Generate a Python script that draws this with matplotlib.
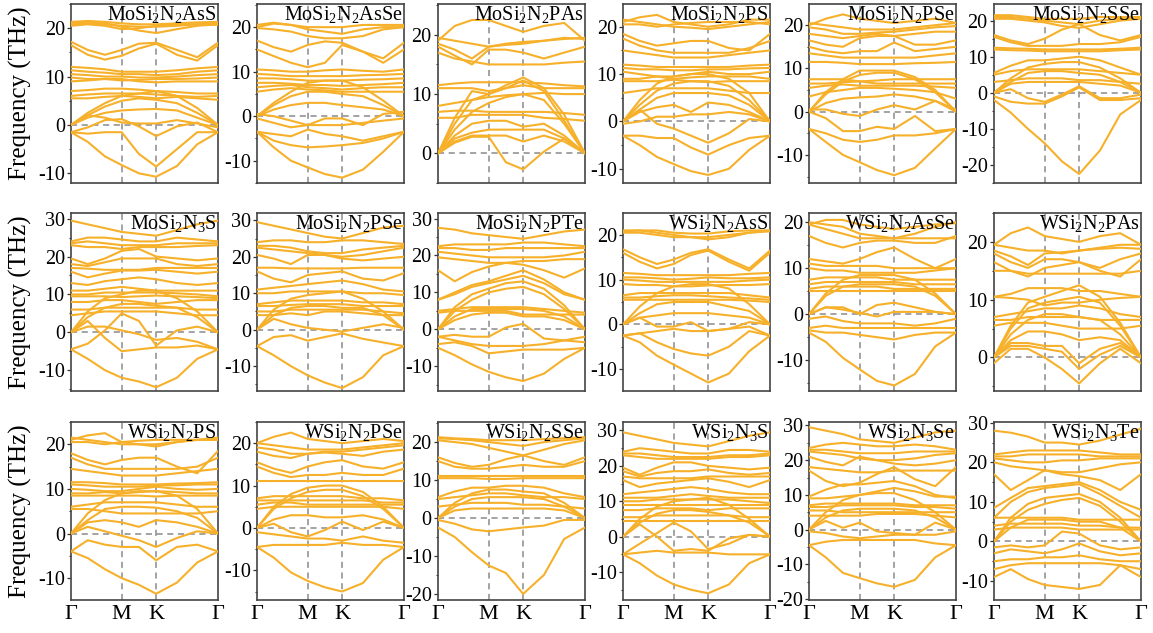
import matplotlib.pyplot as plt
from matplotlib.ticker import MultipleLocator

plt.rcParams['font.family'] = ['Liberation Serif', 'DejaVu Serif']
plt.rcParams['mathtext.fontset'] = 'custom'
plt.rcParams['mathtext.rm'] = 'Liberation Serif'
plt.rcParams['axes.unicode_minus'] = False

# k-path sample positions (Gamma - M - K - Gamma) and labels
kpath = [0.0, 0.33, 0.67, 1.0, 1.34, 1.68, 2.09, 2.49, 2.9]
kticks = [0.0, 1.0, 1.68, 2.9]
klabels = ['Γ', 'M', 'K', 'Γ']

titles = [
    r'MoSi$_\mathregular{2}$N$_\mathregular{2}$AsS', r'MoSi$_\mathregular{2}$N$_\mathregular{2}$AsSe',
    r'MoSi$_\mathregular{2}$N$_\mathregular{2}$PAs', r'MoSi$_\mathregular{2}$N$_\mathregular{2}$PS',
    r'MoSi$_\mathregular{2}$N$_\mathregular{2}$PSe', r'MoSi$_\mathregular{2}$N$_\mathregular{2}$SSe',
    r'MoSi$_\mathregular{2}$N$_\mathregular{3}$S', r'MoSi$_\mathregular{2}$N$_\mathregular{2}$PSe',
    r'MoSi$_\mathregular{2}$N$_\mathregular{2}$PTe', r'WSi$_\mathregular{2}$N$_\mathregular{2}$AsS',
    r'WSi$_\mathregular{2}$N$_\mathregular{2}$AsSe', r'WSi$_\mathregular{2}$N$_\mathregular{2}$PAs',
    r'WSi$_\mathregular{2}$N$_\mathregular{2}$PS', r'WSi$_\mathregular{2}$N$_\mathregular{2}$PSe',
    r'WSi$_\mathregular{2}$N$_\mathregular{2}$SSe', r'WSi$_\mathregular{2}$N$_\mathregular{3}$S',
    r'WSi$_\mathregular{2}$N$_\mathregular{3}$Se', r'WSi$_\mathregular{2}$N$_\mathregular{3}$Te',
]

ylims = [(-12, 25), (-15, 25.2), (-5, 25.2), (-13, 24.8), (-16.5, 24.9), (-25, 24.6),
         (-15.5, 31.5), (-16.8, 32), (-16.7, 31.5), (-14.9, 24.9), (-16.7, 22), (-5.8, 25),
         (-14.9, 25), (-17, 25), (-21.6, 25.3), (-17.9, 32.4), (-20.3, 31), (-14.8, 30.2)]

bands_MoSi2N2AsS = [
    [21.0, 21.2, 21.0, 20.3, 19.5, 19.0, 19.8, 20.5, 20.8],
    [20.5, 20.8, 20.5, 19.8, 20.0, 20.5, 20.8, 20.8, 20.7],
    [20.8, 21.0, 20.8, 20.5, 20.3, 20.3, 20.5, 20.8, 21.0],
    [21.3, 21.5, 21.3, 21.0, 20.8, 20.8, 21.0, 21.2, 21.3],
    [17.2, 15.5, 14.5, 15.5, 16.8, 17.0, 15.5, 14.0, 17.0],
    [16.5, 14.5, 13.5, 14.3, 15.8, 16.8, 14.5, 13.3, 16.5],
    [12.0, 11.8, 11.5, 11.0, 11.0, 11.0, 11.3, 11.7, 12.0],
    [11.3, 11.0, 10.8, 10.5, 10.5, 10.3, 10.5, 11.0, 11.3],
    [10.5, 10.3, 10.0, 10.0, 9.8, 9.8, 10.0, 10.3, 10.5],
    [9.8, 9.5, 9.5, 9.2, 9.3, 9.5, 9.5, 9.6, 9.8],
    [9.0, 9.2, 9.5, 9.5, 9.0, 8.8, 9.0, 9.0, 9.0],
    [7.0, 7.2, 7.5, 7.5, 7.3, 7.0, 6.8, 6.5, 6.5],
    [6.0, 6.3, 6.5, 6.5, 6.5, 6.3, 6.0, 5.8, 6.0],
    [5.5, 5.5, 5.8, 6.0, 5.8, 5.5, 5.8, 5.5, 5.2],
    [0.0, 2.5, 4.5, 6.0, 6.5, 7.0, 6.0, 3.5, 0.0],
    [0.0, 2.0, 3.8, 5.0, 5.5, 5.2, 4.5, 2.5, 0.0],
    [0.0, 1.5, 2.5, 3.0, 3.2, 3.3, 3.0, 1.5, 0.0],
    [-1.5, -0.5, 1.0, 1.2, -0.3, -2.3, -0.3, 0.5, -1.5],
    [0.0, 2.0, 1.5, 0.5, 0.3, 0.3, 1.0, 0.3, -0.5],
    [-1.5, -1.8, -1.5, -1.5, -6.0, -8.6, -5.0, -1.5, -1.5],
    [-1.5, -3.5, -6.5, -8.3, -10.0, -10.7, -8.5, -4.0, -1.5],
]

bands_MoSi2N2AsSe = [
    [20.0, 20.8, 20.5, 19.5, 19.0, 18.5, 19.5, 20.0, 20.0],
    [19.8, 19.5, 19.0, 18.0, 17.5, 17.5, 18.0, 19.5, 20.0],
    [20.5, 21.0, 20.5, 20.0, 20.0, 20.0, 20.5, 20.5, 20.5],
    [17.0, 15.5, 14.5, 16.0, 16.8, 16.5, 14.5, 13.0, 16.5],
    [15.0, 13.5, 12.0, 11.0, 12.0, 16.0, 14.5, 12.0, 15.0],
    [10.5, 10.3, 10.0, 10.0, 10.3, 10.5, 10.2, 10.0, 10.5],
    [9.5, 9.3, 9.0, 9.0, 9.0, 9.0, 9.2, 9.3, 9.5],
    [8.5, 8.5, 8.3, 8.0, 8.0, 8.0, 8.2, 8.3, 8.5],
    [7.5, 7.5, 7.3, 7.0, 7.0, 6.8, 7.0, 7.2, 7.5],
    [6.5, 6.8, 7.0, 6.5, 6.3, 6.0, 6.3, 6.5, 6.5],
    [5.5, 6.0, 6.3, 6.0, 5.8, 5.5, 5.5, 5.5, 5.5],
    [0.0, 3.0, 5.5, 7.5, 8.0, 8.0, 6.5, 3.5, 0.0],
    [0.0, 2.5, 4.5, 5.5, 5.5, 5.0, 4.5, 2.5, 0.0],
    [0.0, 1.5, 2.5, 3.0, 3.0, 2.5, 2.0, 1.5, 0.0],
    [0.5, 0.0, -1.0, -2.0, -0.5, -0.5, -2.0, 0.5, 1.0],
    [-0.5, -1.5, -2.5, -2.0, -2.0, -2.0, -1.5, -1.0, -0.5],
    [-3.5, -4.0, -4.5, -3.0, -4.0, -4.5, -5.5, -4.5, -3.5],
    [-3.5, -5.5, -6.5, -7.0, -6.8, -6.5, -6.0, -5.0, -3.5],
    [-3.5, -7.0, -10.0, -11.5, -13.0, -13.8, -12.0, -8.0, -3.5],
]

bands_MoSi2N2PAs = [
    [19.0, 21.5, 22.5, 22.5, 21.5, 20.5, 21.5, 22.0, 19.0],
    [19.5, 19.0, 18.5, 18.0, 18.5, 18.8, 19.0, 19.3, 19.5],
    [18.5, 17.5, 16.0, 18.0, 18.3, 18.5, 19.0, 19.5, 19.3],
    [18.0, 16.5, 15.0, 17.5, 17.5, 17.0, 16.0, 17.0, 18.0],
    [17.0, 16.0, 15.5, 15.0, 15.0, 15.0, 15.0, 15.3, 15.5],
    [11.5, 11.8, 12.0, 12.0, 12.0, 12.0, 11.8, 11.5, 11.3],
    [11.0, 11.0, 11.0, 10.5, 11.0, 11.5, 11.0, 11.0, 11.0],
    [0.0, 6.0, 10.5, 10.0, 11.5, 12.8, 11.0, 6.5, 0.0],
    [0.0, 5.0, 9.0, 10.0, 11.0, 12.3, 10.5, 5.5, 0.0],
    [8.0, 8.5, 9.0, 9.5, 9.8, 10.0, 10.2, 10.0, 10.0],
    [0.0, 4.0, 7.0, 8.5, 9.5, 10.0, 9.0, 5.0, 0.0],
    [7.0, 7.2, 7.2, 7.0, 7.0, 7.0, 7.0, 6.8, 6.5],
    [6.0, 6.0, 6.5, 6.5, 6.5, 6.5, 6.0, 5.8, 5.5],
    [0.0, 3.0, 5.0, 5.5, 5.5, 4.5, 5.0, 3.0, 0.0],
    [0.0, 2.5, 3.5, 4.0, 4.0, 4.0, 4.0, 2.5, 0.0],
    [0.0, 2.0, 3.0, 3.0, 3.0, 2.0, 3.0, 2.0, 0.0],
    [0.0, 1.8, 2.8, 2.8, -1.5, -2.7, 0.3, 2.5, 0.0],
]

bands_MoSi2N2PS = [
    [21.0, 22.0, 22.5, 21.0, 20.5, 20.0, 20.5, 21.5, 21.5],
    [21.5, 21.0, 20.5, 20.0, 19.8, 19.5, 20.0, 20.5, 21.0],
    [20.5, 20.5, 20.0, 20.5, 20.8, 21.0, 21.0, 21.0, 20.5],
    [18.5, 17.0, 16.0, 16.5, 17.0, 17.0, 15.5, 15.0, 18.5],
    [17.5, 16.0, 15.0, 14.5, 14.5, 14.5, 14.5, 15.5, 17.0],
    [15.0, 14.5, 14.0, 13.5, 13.5, 13.5, 14.0, 14.5, 15.0],
    [12.0, 11.8, 11.5, 11.5, 11.5, 11.5, 11.5, 11.8, 12.0],
    [11.3, 11.0, 11.0, 10.8, 10.8, 11.0, 11.0, 11.2, 11.3],
    [10.5, 10.0, 9.5, 9.5, 10.0, 10.5, 10.0, 10.0, 10.5],
    [9.0, 9.0, 9.5, 9.0, 9.3, 9.5, 9.5, 9.5, 9.0],
    [8.5, 8.5, 8.5, 8.8, 8.5, 8.3, 8.5, 8.5, 8.5],
    [0.0, 4.5, 8.0, 9.5, 10.0, 10.0, 9.0, 6.0, 0.0],
    [0.0, 3.5, 6.5, 8.0, 8.5, 8.5, 7.5, 4.5, 0.0],
    [6.0, 6.5, 7.0, 7.0, 7.0, 7.0, 6.5, 6.0, 6.0],
    [0.0, 2.5, 5.0, 6.0, 6.0, 6.0, 5.5, 3.5, 0.0],
    [0.0, 2.0, 3.0, 3.5, 2.0, 4.0, 3.5, 2.0, 0.0],
    [0.0, 2.5, -0.5, -1.5, -3.0, -4.5, -2.5, 0.5, 0.0],
    [-0.5, 0.0, 1.0, 1.0, 1.5, 1.5, 2.0, 1.5, 0.0],
    [-3.0, -3.0, -3.5, -3.5, -5.5, -7.0, -5.0, -3.5, -3.0],
    [-3.0, -5.0, -7.5, -9.0, -10.5, -11.3, -10.0, -6.0, -3.0],
]

bands_MoSi2N2PSe = [
    [20.0, 21.5, 22.5, 21.5, 21.0, 20.5, 21.0, 21.5, 20.5],
    [20.5, 20.0, 19.5, 19.0, 19.0, 19.0, 19.5, 20.0, 20.5],
    [19.5, 19.0, 18.0, 18.0, 18.3, 18.5, 19.0, 19.5, 19.8],
    [18.0, 17.5, 17.0, 17.5, 18.0, 17.5, 18.0, 18.5, 18.5],
    [16.5, 15.5, 15.0, 17.0, 17.5, 17.5, 15.5, 15.5, 16.5],
    [15.0, 14.0, 13.5, 14.0, 14.0, 16.0, 14.0, 14.5, 15.0],
    [13.5, 13.0, 12.5, 12.5, 12.5, 12.5, 12.5, 13.0, 13.5],
    [11.5, 11.5, 11.3, 11.0, 11.0, 11.0, 11.2, 11.3, 11.5],
    [0.0, 4.5, 7.5, 9.5, 9.5, 9.5, 8.0, 5.0, 0.0],
    [0.0, 4.0, 7.0, 8.5, 9.0, 9.0, 7.5, 4.5, 0.0],
    [7.5, 7.5, 7.5, 7.0, 7.2, 7.5, 7.5, 7.5, 7.5],
    [6.5, 6.5, 6.8, 7.0, 6.5, 6.5, 6.5, 6.5, 6.5],
    [5.5, 6.0, 6.3, 6.0, 6.0, 6.0, 6.0, 5.8, 5.5],
    [3.5, 4.5, 5.0, 5.5, 5.5, 5.3, 5.0, 4.5, 3.0],
    [0.0, 2.0, 3.0, 3.3, 3.5, 4.0, 3.5, 2.5, 0.0],
    [0.5, 0.5, -0.5, -1.0, 0.5, 1.5, 0.5, 2.5, 0.5],
    [0.0, -1.5, -4.5, -4.5, -3.5, -4.0, -1.0, -4.5, -4.0],
    [-4.0, -5.0, -6.5, -7.0, -6.5, -5.5, -5.5, -5.0, -4.0],
    [-4.0, -7.0, -10.0, -11.7, -13.5, -14.7, -13.0, -8.5, -4.0],
]

bands_MoSi2N2SSe = [
    [21.0, 21.0, 20.5, 20.0, 19.5, 19.0, 20.0, 20.5, 21.0],
    [20.5, 20.5, 20.0, 19.5, 18.5, 18.0, 19.0, 20.0, 20.5],
    [21.5, 21.5, 21.0, 20.5, 20.5, 20.5, 21.0, 21.0, 21.0],
    [16.0, 14.5, 13.5, 15.0, 17.5, 19.0, 16.0, 14.5, 16.0],
    [15.5, 14.0, 13.0, 13.0, 13.0, 13.5, 13.5, 14.0, 15.5],
    [12.5, 12.3, 12.2, 12.0, 12.0, 12.0, 12.0, 12.2, 12.5],
    [12.0, 11.8, 11.7, 11.5, 11.5, 11.5, 11.5, 11.8, 12.0],
    [5.5, 7.5, 9.0, 9.0, 9.5, 10.0, 9.0, 7.0, 5.0],
    [0.0, 4.0, 7.0, 8.0, 8.5, 8.5, 7.0, 4.0, 0.0],
    [5.0, 6.0, 6.5, 6.5, 6.5, 6.5, 6.0, 5.5, 5.0],
    [0.0, 3.0, 5.5, 6.0, 6.0, 5.5, 5.0, 3.0, 0.0],
    [3.0, 3.5, 4.0, 4.0, 4.0, 3.5, 3.5, 3.0, 2.5],
    [0.0, 2.5, 3.0, 3.0, 3.0, 3.0, 2.5, 2.0, 0.0],
    [0.0, 1.0, -1.5, -2.5, -0.5, 1.8, -1.5, -1.5, -0.5],
    [-1.0, -2.5, -3.0, -3.0, -1.0, 1.5, -2.0, -2.0, -1.5],
    [-2.0, -5.5, -10.0, -14.0, -19.0, -22.5, -16.0, -6.0, -2.0],
]

bands_MoSi2N3S = [
    [29.5, 28.5, 27.5, 26.5, 26.0, 25.5, 27.0, 28.5, 29.5],
    [24.0, 25.0, 25.0, 24.5, 24.0, 24.0, 25.0, 24.5, 24.0],
    [23.5, 24.0, 23.5, 23.0, 23.0, 23.0, 23.5, 23.5, 23.5],
    [23.0, 22.5, 22.5, 22.0, 22.5, 22.5, 22.5, 22.8, 23.0],
    [19.5, 18.0, 19.5, 21.5, 22.0, 20.0, 19.5, 19.0, 19.5],
    [18.0, 17.5, 18.5, 19.5, 19.5, 19.5, 18.0, 17.5, 18.0],
    [17.0, 16.8, 16.5, 16.5, 16.5, 17.0, 17.0, 17.0, 17.0],
    [16.0, 14.5, 15.5, 16.3, 16.3, 16.5, 16.0, 15.5, 16.0],
    [13.0, 12.5, 13.5, 14.0, 14.5, 14.0, 13.0, 12.5, 13.0],
    [11.0, 11.0, 11.5, 12.0, 11.5, 11.0, 11.0, 11.0, 11.0],
    [10.0, 10.0, 10.5, 10.5, 10.5, 10.5, 10.3, 10.0, 9.5],
    [9.5, 9.5, 9.5, 9.3, 9.5, 9.7, 9.5, 9.3, 9.0],
    [0.0, 5.5, 9.0, 10.0, 11.0, 11.0, 9.0, 5.5, 0.0],
    [8.0, 8.0, 8.5, 8.5, 8.0, 7.5, 8.0, 8.5, 8.5],
    [0.0, 4.0, 6.5, 7.5, 7.5, 7.0, 6.5, 4.0, 0.0],
    [6.0, 6.0, 6.5, 6.5, 6.5, 6.5, 6.5, 6.0, 6.0],
    [4.5, 5.0, 5.5, 5.5, 5.5, 5.5, 5.0, 4.5, 4.5],
    [0.0, 3.0, -1.5, -5.0, -4.5, -4.0, -4.0, -3.5, -4.5],
    [-4.5, -3.0, 0.5, 5.0, 3.0, -3.5, 0.5, 1.5, 0.0],
    [0.0, 1.5, 1.5, 0.5, -0.5, -2.0, -1.5, -2.5, -4.5],
    [-4.5, -7.0, -10.0, -12.0, -13.0, -14.5, -12.0, -7.0, -4.5],
]

bands_MoSi2N2PSe_b = [
    [29.5, 28.5, 27.5, 26.5, 25.5, 25.0, 26.5, 28.0, 28.5],
    [24.0, 24.5, 24.5, 24.0, 24.0, 24.5, 24.5, 24.0, 23.5],
    [23.0, 23.0, 22.5, 21.5, 21.0, 21.0, 22.0, 22.5, 23.0],
    [22.5, 22.0, 21.5, 21.0, 20.5, 20.0, 20.5, 21.5, 22.5],
    [20.5, 19.5, 18.0, 20.5, 20.5, 19.5, 19.0, 19.5, 20.0],
    [17.0, 17.0, 16.8, 16.8, 16.8, 16.8, 17.0, 17.0, 17.0],
    [16.0, 14.0, 13.0, 15.0, 15.5, 16.0, 14.0, 13.5, 15.5],
    [11.0, 11.5, 12.0, 12.5, 13.0, 13.5, 12.5, 11.0, 10.5],
    [10.0, 10.0, 10.5, 10.5, 10.5, 10.5, 10.0, 10.0, 9.5],
    [0.0, 5.5, 8.5, 9.5, 10.0, 10.5, 8.5, 5.0, 0.0],
    [7.0, 7.5, 8.0, 8.0, 8.0, 8.0, 7.5, 7.5, 7.0],
    [6.5, 6.5, 6.8, 7.0, 7.0, 7.0, 6.5, 6.5, 6.5],
    [0.0, 4.0, 6.0, 6.5, 6.5, 6.0, 6.0, 4.0, 0.0],
    [5.0, 5.0, 5.5, 5.5, 5.5, 5.5, 5.5, 5.0, 4.5],
    [4.0, 4.0, 4.5, 4.0, 5.0, 5.0, 4.5, 4.0, 4.0],
    [0.0, 3.0, 1.5, 0.5, 0.0, -0.5, 0.5, 1.5, 0.5],
    [-4.5, -2.0, -1.5, -3.0, -2.0, -1.0, -2.5, -3.5, -4.5],
    [-4.5, -7.0, -10.0, -12.5, -14.5, -16.0, -13.0, -7.0, -4.5],
]

bands_MoSi2N2PTe = [
    [27.5, 27.0, 26.0, 25.5, 25.0, 24.5, 25.5, 26.5, 27.0],
    [22.5, 23.0, 23.0, 23.0, 23.0, 23.5, 23.5, 23.0, 22.5],
    [22.0, 22.0, 21.5, 21.5, 22.0, 22.0, 22.0, 22.0, 22.0],
    [21.0, 20.5, 20.0, 19.5, 19.5, 19.5, 19.5, 20.0, 21.0],
    [19.5, 19.0, 18.5, 18.0, 18.0, 18.5, 18.5, 19.0, 19.0],
    [16.0, 13.0, 15.5, 17.0, 18.0, 17.5, 16.0, 14.0, 16.5],
    [8.0, 10.0, 12.0, 13.0, 14.5, 16.0, 13.5, 10.0, 8.0],
    [8.0, 9.5, 11.5, 12.5, 13.5, 14.5, 12.5, 9.5, 8.0],
    [0.0, 6.0, 9.5, 11.0, 12.5, 13.0, 11.0, 6.5, 0.0],
    [0.0, 5.0, 8.0, 10.0, 11.0, 11.5, 9.5, 5.5, 0.0],
    [5.0, 5.5, 6.0, 6.0, 6.0, 6.0, 5.5, 5.0, 4.5],
    [0.0, 3.5, 5.5, 5.5, 5.5, 5.5, 5.0, 3.5, 0.0],
    [4.5, 5.0, 5.0, 5.0, 5.0, 4.0, 4.0, 4.0, 4.0],
    [0.0, 2.5, 4.0, 4.5, 4.5, 3.5, 3.5, 2.5, 0.0],
    [-2.0, -1.5, -2.0, -2.0, 0.5, 1.5, -2.5, -3.0, -3.5],
    [-2.0, -3.0, -4.0, -4.5, -4.5, -4.5, -4.0, -3.0, -2.0],
    [-4.0, -3.5, -4.5, -6.5, -6.0, -5.5, -5.5, -5.5, -5.0],
    [-5.0, -7.0, -9.5, -11.5, -13.0, -14.0, -12.0, -8.0, -5.0],
]

bands_WSi2N2AsS = [
    [21.0, 21.0, 20.5, 20.0, 19.5, 19.0, 19.5, 20.5, 21.0],
    [20.5, 20.5, 20.0, 19.5, 19.5, 19.5, 20.0, 20.5, 20.8],
    [20.8, 21.0, 21.0, 20.5, 20.3, 20.3, 20.8, 21.0, 21.0],
    [16.8, 15.0, 13.5, 14.5, 16.0, 16.8, 14.5, 12.5, 16.5],
    [16.0, 14.0, 12.5, 13.5, 15.5, 16.5, 14.0, 12.0, 16.0],
    [11.5, 11.3, 11.0, 11.0, 11.0, 11.0, 11.0, 11.3, 11.5],
    [10.5, 10.5, 10.3, 10.0, 10.2, 10.5, 10.3, 10.3, 10.5],
    [10.0, 9.8, 9.5, 9.5, 9.5, 9.5, 9.5, 9.8, 10.0],
    [9.0, 8.8, 8.8, 8.5, 8.5, 8.7, 8.8, 8.8, 9.0],
    [0.0, 4.0, 7.0, 8.5, 9.0, 9.0, 8.0, 4.5, 0.0],
    [6.5, 7.0, 7.0, 7.0, 7.0, 7.0, 7.0, 6.5, 6.0],
    [6.0, 6.0, 6.3, 6.5, 6.5, 6.3, 6.0, 5.8, 5.5],
    [5.5, 5.5, 5.5, 5.5, 5.5, 5.5, 5.5, 5.3, 5.0],
    [0.0, 2.5, 4.5, 5.0, 5.0, 5.0, 4.0, 3.0, 0.0],
    [0.0, 1.5, 2.0, 2.5, 2.5, 2.5, 2.0, 1.5, 0.0],
    [0.0, 1.5, -0.5, -0.5, 0.5, -1.5, -1.0, 0.5, 0.0],
    [-2.5, -2.0, -1.5, -1.0, -1.5, -1.5, -1.0, -0.5, -2.5],
    [-2.5, -2.0, -4.0, -5.5, -6.5, -7.0, -5.0, -1.5, -2.5],
    [-2.5, -4.0, -7.0, -9.0, -11.0, -13.0, -11.0, -6.0, -2.5],
]

bands_WSi2N2AsSe = [
    [19.5, 20.5, 20.5, 19.5, 19.0, 18.5, 19.0, 19.5, 19.8],
    [20.0, 19.5, 19.0, 17.5, 17.0, 16.5, 17.5, 19.0, 20.0],
    [19.5, 18.5, 17.5, 16.5, 16.5, 16.5, 16.5, 16.5, 16.5],
    [17.0, 15.5, 14.5, 15.5, 16.0, 16.0, 15.5, 15.5, 17.0],
    [12.0, 11.5, 11.0, 12.0, 13.5, 14.5, 12.0, 10.0, 12.0],
    [11.0, 10.5, 10.5, 10.5, 10.5, 10.0, 10.0, 10.0, 10.0],
    [10.0, 9.5, 9.5, 9.0, 9.0, 9.0, 9.0, 9.5, 10.0],
    [0.0, 4.5, 7.5, 8.5, 8.5, 8.5, 7.5, 4.5, 0.0],
    [7.5, 8.0, 8.0, 8.0, 8.0, 7.5, 7.5, 7.5, 7.5],
    [6.5, 7.0, 7.0, 7.0, 7.0, 7.0, 6.5, 6.5, 6.5],
    [0.0, 4.0, 6.0, 6.5, 6.5, 6.5, 6.0, 4.0, 0.0],
    [5.5, 6.0, 6.0, 6.0, 6.0, 5.5, 5.5, 5.5, 5.5],
    [5.0, 5.0, 5.0, 5.0, 5.0, 5.0, 5.0, 5.0, 5.0],
    [0.0, 1.5, 1.5, 0.0, 2.0, 2.5, 1.5, 0.5, 0.0],
    [0.0, 1.5, 1.0, 0.3, -0.5, 0.5, 0.5, 0.5, 0.0],
    [-1.0, -0.5, -1.5, -2.0, -2.0, -2.0, -2.5, -2.0, -1.0],
    [-3.0, -2.5, -3.0, -3.0, -3.0, -3.0, -3.0, -3.0, -3.0],
    [-3.5, -4.0, -4.0, -4.5, -5.0, -5.5, -4.5, -4.0, -4.0],
    [-4.0, -6.0, -9.5, -12.0, -14.5, -15.5, -13.0, -7.0, -4.0],
]

bands_WSi2N2PAs = [
    [19.5, 21.5, 22.5, 21.0, 20.5, 20.0, 21.0, 21.5, 19.5],
    [19.5, 19.0, 18.5, 18.5, 18.0, 18.5, 19.0, 19.5, 19.5],
    [18.5, 17.5, 16.0, 18.0, 18.2, 18.5, 18.8, 19.0, 18.8],
    [18.0, 16.5, 15.5, 17.0, 17.0, 16.5, 15.5, 17.0, 18.0],
    [16.5, 15.0, 14.0, 15.5, 16.0, 16.5, 15.0, 14.0, 17.0],
    [15.0, 15.0, 14.5, 14.5, 14.5, 14.5, 14.5, 14.5, 15.0],
    [10.5, 11.0, 12.0, 12.0, 12.0, 11.5, 11.5, 11.0, 10.5],
    [0.0, 5.5, 9.5, 10.5, 11.5, 12.5, 10.5, 6.0, 0.0],
    [0.0, 5.0, 8.5, 9.5, 10.0, 10.5, 9.5, 5.5, 0.0],
    [10.5, 10.3, 10.0, 9.0, 9.5, 9.5, 10.0, 10.3, 10.5],
    [7.0, 7.5, 8.0, 8.5, 8.5, 9.0, 8.5, 7.5, 7.0],
    [6.5, 6.5, 7.0, 7.0, 7.0, 7.0, 6.5, 6.5, 6.5],
    [0.0, 4.0, 6.5, 7.5, 7.5, 7.0, 6.5, 4.0, 0.0],
    [5.5, 6.0, 6.0, 6.0, 5.5, 5.0, 5.0, 5.0, 5.5],
    [0.0, 3.0, 4.5, 4.5, 4.0, 3.0, 3.5, 3.0, 0.0],
    [0.0, 2.5, 2.5, 2.0, 2.0, -1.0, 1.5, 2.5, 0.0],
    [0.0, 2.0, 2.0, 1.5, 1.0, -2.0, 0.5, 2.0, 0.0],
    [-1.0, 1.5, 1.5, 0.0, -2.0, -4.5, -1.0, 1.5, -1.0],
]

bands_WSi2N2PS = [
    [21.0, 22.0, 22.5, 20.5, 20.0, 19.5, 20.5, 21.0, 21.0],
    [21.5, 21.0, 20.5, 20.0, 20.0, 20.0, 20.5, 21.0, 21.5],
    [20.5, 20.5, 20.0, 20.5, 20.8, 21.0, 21.0, 21.0, 21.0],
    [18.0, 16.5, 15.5, 16.5, 17.0, 17.0, 15.0, 13.5, 18.5],
    [17.0, 15.5, 14.5, 14.5, 14.5, 14.5, 14.5, 15.0, 17.0],
    [14.5, 14.0, 13.5, 13.0, 13.0, 13.0, 13.5, 14.0, 14.5],
    [11.5, 11.5, 11.3, 11.0, 11.0, 11.0, 11.2, 11.3, 11.5],
    [11.0, 10.8, 10.5, 10.5, 10.5, 10.8, 10.8, 11.0, 11.0],
    [10.0, 9.8, 9.5, 9.5, 10.0, 10.5, 10.0, 9.8, 10.0],
    [9.0, 9.0, 9.3, 9.0, 9.3, 9.5, 9.3, 9.0, 9.0],
    [8.5, 8.5, 8.5, 8.5, 8.5, 8.3, 8.5, 8.5, 8.5],
    [0.0, 4.5, 7.5, 9.0, 9.5, 9.5, 8.5, 5.5, 0.0],
    [6.0, 6.5, 7.0, 7.0, 7.0, 7.0, 6.5, 6.0, 6.0],
    [0.0, 3.0, 5.5, 6.0, 6.0, 5.8, 5.0, 3.5, 0.0],
    [5.5, 5.5, 5.0, 4.5, 4.5, 4.5, 4.5, 4.5, 5.0],
    [0.0, 2.5, 3.0, 2.5, 1.5, 3.0, 2.5, 1.5, 0.0],
    [0.0, 1.5, 0.5, -0.5, -1.5, -3.0, -1.0, 0.5, 0.0],
    [-4.0, -1.5, -2.5, -3.0, -3.0, -6.0, -3.0, -2.5, -4.0],
    [-4.0, -5.5, -8.0, -10.0, -11.5, -13.5, -11.0, -6.5, -4.0],
]

bands_WSi2N2PSe = [
    [20.0, 21.5, 22.5, 21.0, 20.5, 20.0, 20.5, 21.0, 20.5],
    [20.0, 19.5, 19.0, 18.5, 18.5, 18.5, 19.0, 19.5, 20.0],
    [19.0, 18.5, 17.5, 17.5, 18.0, 18.0, 18.5, 19.0, 19.5],
    [18.0, 17.0, 16.5, 17.5, 17.8, 17.5, 17.0, 18.0, 18.5],
    [15.5, 14.0, 13.0, 14.5, 15.5, 16.0, 14.5, 14.0, 15.5],
    [14.5, 13.0, 12.0, 12.5, 12.5, 13.0, 12.5, 12.5, 14.0],
    [11.0, 11.0, 11.0, 11.0, 11.0, 11.0, 11.0, 11.0, 11.0],
    [0.0, 5.0, 8.0, 9.5, 10.0, 10.0, 8.5, 5.0, 0.0],
    [0.0, 4.5, 7.0, 8.5, 9.0, 9.0, 7.5, 4.5, 0.0],
    [7.0, 7.5, 7.5, 7.5, 7.5, 7.5, 7.0, 7.0, 6.5],
    [6.5, 6.5, 6.5, 6.5, 6.5, 6.5, 6.5, 6.0, 6.0],
    [5.5, 6.0, 6.0, 5.5, 5.5, 5.5, 5.5, 5.5, 5.5],
    [4.5, 5.0, 5.0, 5.0, 5.0, 5.0, 5.0, 5.0, 4.5],
    [0.0, 2.0, 3.0, 3.0, 2.5, 2.5, 3.0, 2.0, 0.0],
    [0.0, 1.0, -1.0, -2.0, -0.5, 1.5, -0.5, 1.5, 0.0],
    [-1.0, -1.5, -2.0, -2.5, -2.5, -3.0, -2.0, -3.0, -3.5],
    [-4.5, -4.0, -4.0, -4.0, -4.0, -3.5, -4.0, -4.0, -4.5],
    [-4.5, -7.0, -10.5, -12.5, -14.0, -15.0, -13.0, -7.5, -4.5],
]

bands_WSi2N2SSe = [
    [21.0, 20.8, 20.5, 20.0, 19.5, 19.0, 20.0, 20.5, 21.0],
    [20.5, 20.0, 19.5, 18.5, 17.5, 16.5, 18.0, 19.5, 20.5],
    [21.3, 21.0, 20.8, 20.5, 20.5, 20.5, 20.8, 21.0, 21.3],
    [16.0, 14.5, 13.5, 14.0, 15.5, 16.5, 15.0, 14.0, 16.0],
    [15.0, 13.5, 13.0, 13.0, 13.5, 14.0, 13.5, 13.5, 15.0],
    [11.0, 11.0, 11.0, 11.0, 11.0, 11.0, 11.0, 11.0, 11.0],
    [10.5, 10.5, 10.5, 10.3, 10.3, 10.5, 10.5, 10.5, 10.5],
    [5.5, 7.0, 8.0, 8.0, 8.5, 8.5, 8.0, 6.5, 5.5],
    [0.0, 4.0, 6.5, 7.5, 7.5, 7.0, 6.5, 4.0, 0.0],
    [5.0, 5.5, 6.0, 6.5, 6.5, 6.0, 5.5, 5.5, 5.0],
    [0.0, 3.0, 5.0, 5.5, 5.5, 5.5, 5.0, 3.0, 0.0],
    [3.0, 3.5, 4.0, 4.0, 4.0, 3.5, 3.5, 3.0, 2.5],
    [0.0, 2.0, 2.5, 2.5, 2.5, 2.5, 2.5, 2.0, 0.0],
    [-0.5, -1.5, -3.0, -3.5, -3.0, -2.5, -2.0, -0.5, -0.5],
    [-2.5, -5.0, -9.0, -12.5, -14.5, -20.0, -15.0, -5.5, -2.5],
]

bands_WSi2N3S = [
    [29.5, 28.5, 27.5, 26.5, 26.0, 25.5, 27.0, 28.5, 29.5],
    [24.0, 25.0, 24.5, 24.0, 23.5, 23.5, 24.5, 24.5, 24.0],
    [23.5, 23.5, 23.0, 22.5, 22.5, 22.5, 23.0, 23.0, 23.5],
    [23.0, 22.5, 22.0, 22.0, 22.0, 22.0, 22.5, 22.5, 23.0],
    [19.5, 17.5, 19.5, 21.0, 21.0, 20.0, 19.5, 19.0, 19.5],
    [18.5, 17.0, 18.0, 18.5, 18.5, 19.0, 18.0, 17.5, 18.0],
    [17.0, 16.5, 16.5, 16.5, 16.5, 17.0, 17.0, 17.0, 17.0],
    [16.0, 14.0, 15.0, 15.5, 16.0, 16.5, 15.5, 14.0, 16.0],
    [12.0, 12.5, 13.0, 13.5, 14.0, 13.5, 12.5, 12.0, 12.0],
    [11.0, 11.0, 11.0, 11.5, 12.0, 11.5, 11.0, 11.0, 11.0],
    [10.0, 10.0, 10.5, 10.5, 10.5, 10.5, 10.5, 10.0, 9.5],
    [9.0, 9.0, 9.0, 9.0, 9.0, 9.0, 9.0, 9.0, 9.0],
    [0.0, 5.0, 8.5, 10.0, 10.5, 11.0, 9.0, 5.0, 0.0],
    [7.5, 7.5, 8.0, 8.0, 8.0, 7.5, 8.0, 8.0, 8.0],
    [0.0, 4.0, 6.5, 7.5, 7.5, 7.0, 6.0, 4.0, 0.0],
    [5.5, 5.5, 6.0, 6.0, 6.0, 6.0, 6.0, 5.5, 5.5],
    [4.5, 4.5, 4.5, 4.5, 4.5, 4.5, 4.5, 4.5, 4.5],
    [0.0, 3.5, 0.0, -4.0, -3.5, -4.0, -0.5, 0.5, 0.0],
    [-5.0, -2.0, 1.0, 4.0, 1.5, -3.5, -2.0, 0.5, 0.0],
    [-5.0, -4.5, -4.0, -4.5, -4.5, -4.5, -5.0, -5.0, -5.0],
    [-5.0, -7.5, -11.0, -13.5, -15.0, -16.0, -13.5, -7.5, -5.0],
]

bands_WSi2N3Se = [
    [29.5, 28.5, 27.5, 26.0, 25.5, 25.0, 26.5, 28.0, 28.5],
    [23.5, 24.5, 25.0, 24.5, 24.0, 24.0, 24.5, 24.0, 23.0],
    [23.0, 23.0, 22.5, 22.0, 22.0, 22.0, 22.5, 22.5, 22.5],
    [22.5, 22.0, 21.5, 20.5, 20.0, 20.0, 20.5, 21.5, 22.0],
    [21.0, 19.5, 18.5, 21.0, 20.0, 19.0, 18.5, 19.0, 20.0],
    [18.0, 17.5, 17.0, 16.5, 16.5, 17.0, 17.0, 17.0, 17.0],
    [17.0, 14.0, 12.5, 13.5, 16.0, 18.0, 14.5, 12.5, 18.0],
    [9.5, 11.5, 13.0, 13.0, 13.5, 14.0, 12.5, 10.0, 9.0],
    [9.0, 9.0, 9.5, 10.0, 11.0, 12.0, 11.0, 9.5, 9.5],
    [0.0, 5.0, 8.5, 10.0, 10.5, 10.5, 8.5, 5.0, 0.0],
    [7.0, 7.5, 7.5, 7.5, 7.5, 7.5, 7.0, 7.0, 7.0],
    [6.5, 6.5, 7.0, 7.0, 7.0, 7.0, 6.5, 6.5, 6.0],
    [0.0, 3.5, 5.5, 6.0, 6.0, 6.0, 5.5, 3.5, 0.0],
    [5.5, 5.5, 5.0, 5.0, 5.0, 5.0, 5.0, 5.0, 5.0],
    [4.0, 4.0, 4.0, 4.0, 4.5, 4.5, 4.5, 4.0, 3.5],
    [0.0, 2.5, 0.5, 2.0, -0.5, -1.0, -1.5, 2.0, 0.0],
    [-0.5, -1.0, -2.0, -2.5, -2.0, -1.5, -1.5, -1.5, -0.5],
    [-4.5, -3.5, -3.0, -3.0, -3.0, -3.0, -3.0, -4.0, -4.5],
    [-4.5, -8.0, -12.5, -14.0, -15.5, -16.5, -14.5, -8.0, -4.5],
]

bands_WSi2N3Te = [
    [28.0, 27.5, 26.5, 25.0, 25.0, 24.5, 25.5, 27.0, 28.5],
    [22.0, 22.5, 23.0, 23.0, 23.0, 23.0, 22.5, 22.0, 22.0],
    [21.5, 21.5, 22.0, 22.0, 22.0, 22.0, 21.5, 21.5, 21.5],
    [21.0, 20.5, 20.0, 20.0, 20.5, 20.5, 21.0, 21.0, 21.0],
    [20.0, 19.0, 18.5, 18.0, 17.5, 17.5, 18.5, 19.5, 20.0],
    [17.0, 13.0, 15.5, 18.0, 17.0, 16.5, 15.5, 13.0, 17.0],
    [8.5, 11.0, 13.5, 14.0, 14.5, 15.0, 13.0, 10.0, 8.0],
    [6.0, 10.0, 12.5, 13.5, 14.0, 14.5, 12.0, 9.0, 6.0],
    [0.0, 6.0, 9.5, 11.0, 11.5, 12.0, 10.0, 6.0, 0.0],
    [0.0, 5.0, 8.0, 9.5, 10.5, 11.0, 9.0, 5.0, 0.0],
    [6.0, 6.0, 6.0, 6.0, 6.0, 5.5, 5.5, 5.5, 5.5],
    [0.0, 3.5, 5.5, 5.5, 5.5, 5.0, 5.0, 3.5, 0.0],
    [4.0, 4.5, 4.5, 4.5, 4.5, 4.0, 4.0, 3.5, 3.5],
    [3.0, 3.5, 3.5, 3.5, 3.5, 3.0, 3.0, 3.0, 3.0],
    [-1.5, -1.0, -1.5, -1.0, 2.5, 2.0, -1.0, -2.0, -1.5],
    [-3.0, -2.0, -2.5, -3.0, -2.0, -0.5, -2.5, -3.5, -3.0],
    [-5.0, -4.5, -4.5, -4.0, -4.0, -3.5, -4.5, -5.0, -5.0],
    [-7.0, -6.0, -5.5, -5.5, -5.5, -5.5, -5.5, -6.0, -7.0],
    [-9.0, -7.0, -9.5, -11.0, -11.5, -12.0, -11.0, -6.0, -9.0],
]

all_bands = [bands_MoSi2N2AsS, bands_MoSi2N2AsSe, bands_MoSi2N2PAs, bands_MoSi2N2PS,
             bands_MoSi2N2PSe, bands_MoSi2N2SSe, bands_MoSi2N3S, bands_MoSi2N2PSe_b,
             bands_MoSi2N2PTe, bands_WSi2N2AsS, bands_WSi2N2AsSe, bands_WSi2N2PAs,
             bands_WSi2N2PS, bands_WSi2N2PSe, bands_WSi2N2SSe, bands_WSi2N3S,
             bands_WSi2N3Se, bands_WSi2N3Te]

# panel frames in pixels of the 1153x633 picture
W, H = 1153, 633
col_left = [71, 257, 438, 623, 809, 994]
row_span = [(4, 183), (213, 391), (422, 600)]
panel_w = 147

band_color = '#F6B02A'
guide_color = '#8a8a8a'

fig = plt.figure(figsize=(W / 100, H / 100), dpi=100)

for i, (title, ylim, bands) in enumerate(zip(titles, ylims, all_bands)):
    r, c = divmod(i, 6)
    top, bot = row_span[r]
    ax = fig.add_axes([col_left[c] / W, 1 - bot / H, panel_w / W, (bot - top) / H])
    for b in bands:
        ax.plot(kpath, b, color=band_color, lw=1.5, solid_joinstyle='round',
                solid_capstyle='round', zorder=3)
    ax.axhline(0, color=guide_color, lw=1.1, ls=(0, (4, 3)), zorder=2)
    for kx in kticks[1:3]:
        ax.axvline(kx, color=guide_color, lw=1.1, ls=(0, (4, 3)), zorder=2)
    ax.set_xlim(kticks[0], kticks[-1])
    ax.set_ylim(*ylim)
    ax.yaxis.set_major_locator(MultipleLocator(10))
    ax.yaxis.set_minor_locator(MultipleLocator(5))
    ax.tick_params(axis='y', which='major', length=3, width=0.9, pad=1.5, labelsize=14.5, color='#333333')
    ax.tick_params(axis='y', which='minor', length=1.8, width=0.8, color='#333333')
    ax.set_xticks(kticks)
    if r == 2:
        ax.set_xticklabels(klabels, fontsize=16)
        ax.tick_params(axis='x', length=0, pad=3.5)
    else:
        ax.set_xticklabels([])
        ax.tick_params(axis='x', length=0)
    for s in ax.spines.values():
        s.set_color('#444444')
        s.set_linewidth(1.2)
    ax.text(0.99, 0.995, title, transform=ax.transAxes, ha='right', va='top',
            fontsize=14.5, zorder=5)

for top, bot in row_span:
    fig.text(0.018, 1 - (top + bot) / 2 / H, 'Frequency (THz)', rotation=90,
             ha='center', va='center', fontsize=18)

fig.savefig('out.png', dpi=100)
